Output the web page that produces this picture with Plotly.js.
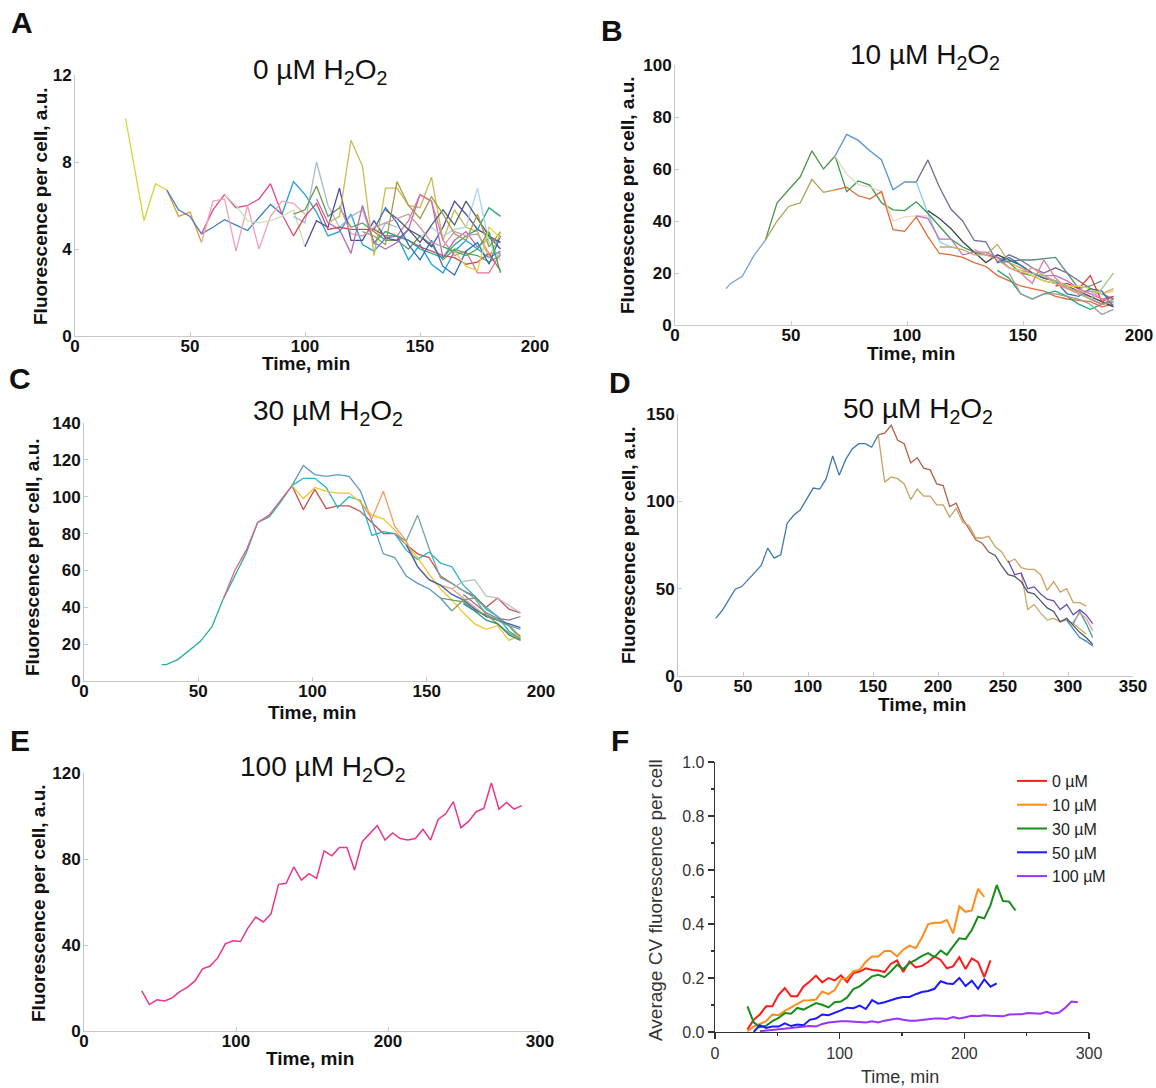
<!DOCTYPE html>
<html><head><meta charset="utf-8">
<script src="https://cdn.plot.ly/plotly-3.0.1.min.js"></script>
<style>html,body{margin:0;padding:0;background:#fff}</style>
</head><body><div id="chart" style="width:1156px;height:1088px"></div>
<script>
// ---------------- DATA ----------------
// Panel A: 0 µM H2O2 (time axis, min)
const tA = [22,30,35,40,45,50,55,60,65,70,75,80,85,90,95,100,105,110,115,120,125,130,135,140,145,150,155,160,165,170,175,180,185];
const a01 = [10.0,5.3,7.0,6.7];
const a02 = [6.7,5.5,5.7,4.3];
const a03 = [6.7,5.8,5.5,4.7,5.0,5.35,5.1,4.85,5.45,6.05,5.6];
const a04 = [5.6,7.1,6.5,5.7,4.6,4.8,5.6,4.2,3.9,4.5,4.6,3.5,4.2,3.3,2.9,3.9,4.4,4.0,3.6,3.9];
const a05 = [4.7,5.8,6.5,5.9,6.0,6.3,7.0,5.6,4.6];
const a06 = [4.3,6.2,6.3,3.9,6.0,4.0,5.5,6.2,6.1,5.6];
const a07 = [6.5,6.0,5.3,5.2,5.3,5.5,5.8,4.1];
const a08 = [5.5,5.2,8.0,6.0,5.0,5.5,5.8,4.2,5.2,5.0];
const a09 = [5.6,5.8,6.9,5.5,5.9,5.0,5.2,4.8,4.4,4.4,4.0,4.6,4.2,3.5,4.0,3.8,3.7,3.4,3.7];
const a10 = [4.1,5.3,5.0,6.8,4.4,4.4,5.3,4.5,4.4,4.9,4.6,4.1,5.0,6.2,5.6,4.9,4.6,4.0];
const a11 = [5.2,5.5,9.0,7.8,3.7,6.8,6.8,6.0,5.9,7.3,4.4,5.8,5.0,4.8,3.6,4.7];
const a12 = [6.3,5.2,4.9,3.8,6.0,4.3,4.0,4.3,4.9,6.5,6.2,3.6,4.4,4.8,4.1,4.5,4.3];
const a13 = [4.6,5.5,6.1,4.9,5.0,4.9,4.9,4.9,4.6,4.6,4.4,4.1,3.9,3.7,3.6,3.3,3.4,3.8,3.0];
const a14 = [4.3,4.8,4.6,4.4,4.0,3.8,3.6,4.2,4.6,4.9,5.9,5.5];
const a15 = [4.5,5.0,4.6,4.9,5.0,6.8,4.3,3.5];
const a16 = [4.6,5.3,6.5,6.2,4.4,3.7,3.9,2.9,2.9,3.8];
const a17 = [4.9,5.9,5.2,4.2,3.5,4.4,3.2,2.8,3.9,4.3,3.3,4.6];
const a18 = [5.8,5.4,4.9,4.3,5.1,5.8,5.1,6.2,5.4,4.6,4.3];
const a19 = [4.8,4.6,4.2,7.1,6.0,5.4,6.4,5.6,4.7,4.4,5.6,4.1,4.8];
const a20 = [6.0,4.7,4.6,5.0,5.2,5.4,5.6,5.0,4.3,4.1,4.8,4.6,4.7,3.8,3.8];
const a21 = [4.1,3.9,3.7,4.0,4.8,2.9];
const a22 = [3.9,3.2,3.0,5.0,4.5];
const startsA = [22,40,40,90,55,55,65,95,95,100,110,105,95,130,150,140,130,135,125,115,160,165];
const seriesA = [a01,a02,a03,a04,a05,a06,a07,a08,a09,a10,a11,a12,a13,a14,a15,a16,a17,a18,a19,a20,a21,a22];

// Panel B: 10 µM H2O2
const tB = [22,24,29,34,39,44,49,54,59,64,69,74,79,84,89,94,99,104,109,114,119,124,129,134,139,144,149,154,159,164,169,174,179,184,189];
const b01 = [14,16,18.7,26.7,32.7];
const b02 = [32.7,47,52,57,67,60,65];
const b03 = [65,73.3,71,67,63.5,52,55,55];
const b04 = [55,43,32,30];
const b05 = [55,63.5,53,44.5,40,32.5,32,24,27,25,22,20,22,20,17,14,12,10];
const b06 = [65,51.3,55.4,53.8,47,44.3,44,47.4,43,38,33,30,28,27,26,24,20,19,17,16,15,12,10,8,9];
const b07 = [32.7,40,45.6,47,56,51,52];
const b08 = [65,58,54,53,51.3,40,41.6,42,42];
const b09 = [52,53,49.7,48.4,51.3,36.7,36,41.6,34,27.5,27,26,24,22.5,19,17,15,14,13,11,10,9.5,9,7,8];
const b10 = [44,41,37,32,28,24,27,25,23,20,18,17,15,13,11,9,7];
const b11 = [42,41,33,33,27,28,28,26,22,21,20,19,19,17,14,12,10,11];
const b12 = [30,30,29,27,27,31,24,22,20,18,17,14,13,13,12,14];
const b13 = [24,24.5,25,25,25.5,26,20,14,15,17];
const b14 = [15,16,14,19,9,11];
const b15 = [22,21,19,17,16,15,15,14,12,13];
const b16 = [21,18,12,10,12,13,11,8,6,8,10];
const b17 = [20,16,25,18,14,13,10,8,9];
const b18 = [24,26,23,20,18,17,12,11,14,13,7];
const b19 = [20,19,17,15,12,10,14,20];
const b20 = [29,27,25,22,20,22,19,16,14,12,13,10,9];
const b21 = [20,12,10,12,12,11,10,8,4,6];
const startsB = [22,39,69,104,104,69,39,69,69,109,104,114,139,164,144,139,149,139,154,129,144];
const seriesB = [b01,b02,b03,b04,b05,b06,b07,b08,b09,b10,b11,b12,b13,b14,b15,b16,b17,b18,b19,b20,b21];

// Panel C: 30 µM H2O2
const tC = [34,36,41,46,51,56,61,66,71,76,81,86,91,96,101,106,111,116,121,126,131,136,141,146,151,156,161,166,171,176,181,186,191];
const c01 = [8.9,8.9,11.6,16.4,21.5,29.5,44.7,57,69.4,86,89,97,106];
const c02 = [44.7,60,71,86,90,98,106];
const c03 = [106,93,104,93.5,95,95,92,86,80,80,74,69,67,57,53,49,46,40,45,39,37];
const c04 = [106,117,112,111,112,111,103,87,69,67,57,53,50,45,38];
const c05 = [106,110,110,105,94,100,98,79,81,80,71,66,70,64,62,52,46,39,35,27,23];
const c06 = [106,99,105,103,102,102,97,90,88,82,74,67,58,50,44,37,31,28,30,22,25];
const c07 = [97,88,103,84,76,62,55,52,50,45,40,35,33,30,22];
const c08 = [80,76,90,72,56,53,49,45,40,35,30,28];
const c09 = [74,62,55,52,47,44,39,35,33,31,29];
const c10 = [50,54,55,46,45,41,37];
const c11 = [45,44,43,38,36,33,30,24];
const c12 = [47,42,37,34,33,35];
const c13 = [38,44,45,36,31,26,23];
const c14 = [42,38,33,31,25,22];
const startsC = [34,61,91,91,91,91,121,136,141,161,156,166,161,166];
const seriesC = [c01,c02,c03,c04,c05,c06,c07,c08,c09,c10,c11,c12,c13,c14];

// Panel D: 50 µM H2O2
const tD = [29,34,39,44,49,54,59,64,69,74,79,84,89,94,99,104,109,114,119,124,129,134,139,144,149,154,159,164,169,174,179,184,189,194,199,204,209,214,219,224,229,234,239,244,249,254,259,264,269,274,279,284,289,294,299,304,309,314,319];
const d01 = [33,37.5,43.6,49.7,51.2,55,59.2,63.3,73.2,67.5,69.4,87.5,92,95,101,107.6,107,113,126,115,124,130,133,133,131,138];
const d02 = [138,139,143.5,135,133,122,125,119,118,110,109,97,99,90,84,78,76,71];
const d03 = [138,111,114,113,110,101,107,103,103,98,98,91,96,88,86,79,79,80,74,71,65,67,62,61,61,58,49,54,48,50,42,42,40];
const d04 = [59,38,41,36,32,33,31,32,30,27,24];
const d05 = [71,69,63,58,57,54,48,47,43,39,37,31,33,29,25,22,18];
const d06 = [66,58,59,50,51,47,44,43,38,41,35,38,35,30];
const d07 = [30,37,30,22];
const d08 = [31,36,33,26];
const d09 = [32,27,22,20,17];
const startsD = [29,154,154,264,239,254,304,304,299];
const seriesD = [d01,d02,d03,d04,d05,d06,d07,d08,d09];

// Panel E: 100 µM H2O2
const tE = [38,43,48,53,58,63,68,73,78,83,88,93,98,103,108,113,118,123,128,133,138,143,148,153,158,163,168,173,178,183,188,193,198,203,208,213,218,223,228,233,238,243,248,253,258,263,268,273,278,283,288];
const e01 = [18.7,12.3,14.5,14,15.4,18.3,20.3,23.3,28.9,30.2,34,40.5,42,41.6,48.1,53,50.7,54.5,68.2,68.7,76.3,70.2,73.2,71,83.8,81.5,85.3,85.3,74.8,88,91.8,95.6,88.8,92.1,89.5,88.8,89.5,93.8,88.8,98.4,101,106.7,94.6,97.5,102,103.5,115.4,103.2,106.3,103.2,104.8];

// Panel F: average CV of fluorescence per cell
const tF = [26,31,36,41,46,51,56,61,66,71,76,81,86,91,96,101,106,111,116,121,126,131,136,141,146,151,156,161,166,171,176,181,186,191,196,201,206,211,216,221,226,231,236,241,246,251,256,261,266,271,276,281,286,291];
const fNames = ['0 µM','10 µM','30 µM','50 µM','100 µM'];
const f0 = [0.009,0.045,0.065,0.095,0.095,0.138,0.163,0.132,0.132,0.169,0.187,0.209,0.184,0.2,0.191,0.21,0.185,0.218,0.224,0.236,0.23,0.228,0.222,0.252,0.265,0.222,0.261,0.239,0.245,0.259,0.28,0.267,0.236,0.243,0.277,0.233,0.273,0.259,0.203,0.265];
const f10 = [0.003,0.02,0.03,0.04,0.065,0.062,0.078,0.09,0.105,0.117,0.118,0.12,0.15,0.14,0.155,0.195,0.2,0.225,0.23,0.26,0.28,0.28,0.3,0.3,0.28,0.305,0.32,0.31,0.35,0.4,0.405,0.405,0.415,0.365,0.465,0.445,0.45,0.53,0.5];
const f30 = [0.095,0.036,0.018,0.023,0.04,0.052,0.07,0.068,0.089,0.083,0.095,0.107,0.101,0.091,0.11,0.113,0.128,0.159,0.169,0.187,0.206,0.212,0.203,0.224,0.249,0.233,0.255,0.267,0.282,0.292,0.277,0.302,0.286,0.317,0.347,0.344,0.378,0.427,0.421,0.47,0.544,0.485,0.483,0.45];
const f50 = [0.0,0.025,0.015,0.02,0.02,0.032,0.022,0.028,0.025,0.045,0.05,0.065,0.062,0.07,0.08,0.09,0.088,0.098,0.085,0.118,0.105,0.11,0.118,0.125,0.13,0.13,0.14,0.148,0.152,0.16,0.188,0.18,0.178,0.2,0.17,0.19,0.16,0.195,0.168,0.18];
const f100 = [0.003,0.005,0.008,0.01,0.012,0.015,0.018,0.02,0.022,0.02,0.03,0.035,0.038,0.04,0.04,0.038,0.035,0.035,0.04,0.035,0.042,0.046,0.05,0.045,0.042,0.042,0.045,0.046,0.05,0.05,0.048,0.055,0.05,0.055,0.06,0.058,0.062,0.06,0.058,0.058,0.065,0.066,0.066,0.07,0.07,0.068,0.075,0.068,0.072,0.09,0.113,0.11];
const startsF = [26,26,26,31,36];
const seriesF = [f0,f10,f30,f50,f100];

// ---------------- STYLE / LAYOUT ----------------
const W = 1156, H = 1088;
const FONT = 'Liberation Sans, Arial, Helvetica, sans-serif';
const colorsA = ['#d9d23a','#e89a30','#3f7fc4','#1ba1e2','#e8498a','#f0a0b4','#cde3b6','#a9bcc6','#6c9a52','#4a4aa6','#c9bb4e','#b56ab8','#d0485a','#2aa192','#a8d4f2','#e27496','#2f6fc2','#4f6173','#a89a44','#cf96a8','#2fb14f','#e3d33d'];
const colorsB = ['#7ba0d0','#4f9550','#5a92d4','#86cdf2','#6e6e94','#3a9a4a','#b0a050','#ecd6c0','#e06a35','#3f4650','#c66cc6','#caa565','#5c8c82','#e83535','#e2d545','#21a474','#e4789a','#2f72c4','#a6c885','#e39a88','#9a9a9a'];
const colorsC = ['#1fb39b','#e0608e','#c65454','#5c9bc2','#22b6c8','#f2c526','#f39a68','#74a3a8','#4262b2','#b9c1c1','#5aa46c','#8472aa','#86a45e','#2b8f80'];
const colorsD = ['#3c78b0','#b5604f','#c9a25f','#cba86a','#4f5868','#6650b4','#2fa090','#f09898','#3a86c0'];
const colorE = '#e8358c';
const colorsF = ['#ff1a1a','#ff8c1a','#1a8c1a','#1a1aff','#9933ff'];

function seg(t, start, vals) { const i = t.indexOf(start); return t.slice(i, i + vals.length); }

const traces = [];
function addPanel(t, starts, series, colors, ax) {
  series.forEach((v, k) => {
    traces.push({type:'scatter', mode:'lines', x: seg(t, starts[k], v), y: v,
      xaxis:'x'+ax, yaxis:'y'+ax, line:{color:colors[k], width:1.3}, showlegend:false, hoverinfo:'skip'});
  });
}
addPanel(tA, startsA, seriesA, colorsA, '');
addPanel(tB, startsB, seriesB, colorsB, '2');
addPanel(tC, startsC, seriesC, colorsC, '3');
addPanel(tD, startsD, seriesD, colorsD, '4');
traces.push({type:'scatter', mode:'lines', x:tE, y:e01, xaxis:'x5', yaxis:'y5', line:{color:colorE, width:1.5}, showlegend:false, hoverinfo:'skip'});
seriesF.forEach((v, k) => {
  traces.push({type:'scatter', mode:'lines', x: seg(tF, startsF[k], v), y: v, name: fNames[k],
    xaxis:'x6', yaxis:'y6', line:{color:colorsF[k], width:2}, showlegend:true, hoverinfo:'skip'});
});

const dx = (a, b) => [a / W, b / W];
const dy = (top, bottom) => [1 - bottom / H, 1 - top / H];

function axAE(domain, range, dtick, anchor, isX) {
  return {domain, range, dtick, tick0:0, anchor, showgrid:false, zeroline:false, showline:true,
    linecolor:'#c8c8c8', linewidth:1, ticks:'inside', ticklen:4, tickcolor:'#c8c8c8',
    ticklabelstandoff: isX ? -5 : -1,
    tickfont:{family:FONT, size:17, color:'#111', weight:'bold'}, fixedrange:true};
}
function axF(domain, range, dtick, minor, anchor, fmt) {
  return {domain, range, dtick, tick0:0, anchor, showgrid:false, zeroline:false, showline:true,
    linecolor:'#333', linewidth:1.3, ticks:'outside', ticklen:6, tickcolor:'#333', tickwidth:1.3,
    minor:{ticks:'outside', ticklen:3, dtick:minor, tickcolor:'#333'},
    tickformat: fmt, tickfont:{family:FONT, size:16, color:'#333'}, fixedrange:true};
}

const layout = {
  width: W, height: H, margin:{l:0, r:0, t:0, b:0},
  paper_bgcolor:'#fff', plot_bgcolor:'rgba(0,0,0,0)', font:{family:FONT},
  xaxis:  axAE(dx(75,535),   [0,200], 50, 'y', true),
  yaxis:  axAE(dy(75,336),   [0,12],  4,  'x', false),
  xaxis2: axAE(dx(675,1139), [0,200], 50, 'y2', true),
  yaxis2: axAE(dy(65,325),   [0,100], 20, 'x2', false),
  xaxis3: axAE(dx(84,541),   [0,200], 50, 'y3', true),
  yaxis3: axAE(dy(423,681),  [0,140], 20, 'x3', false),
  xaxis4: axAE(dx(678,1133), [0,350], 50, 'y4', true),
  yaxis4: axAE(dy(414,676),  [0,150], 50, 'x4', false),
  xaxis5: axAE(dx(84,540),   [0,300], 100, 'y5', true),
  yaxis5: axAE(dy(773,1031), [0,120], 40, 'x5', false),
  xaxis6: axF(dx(715,1089),  [0,300], 100, 50, 'y6', ''),
  yaxis6: axF(dy(762,1032),  [0,1.0], 0.2, 0.1, 'x6', '.1f'),
  legend: {x:1012/W, y:1-764/H, xanchor:'left', yanchor:'top', bgcolor:'rgba(0,0,0,0)',
    font:{family:FONT, size:16, color:'#222'}, tracegroupgap:0, itemwidth:30},
  annotations: []
};

function ann(text, x, y, size, opts) {
  layout.annotations.push(Object.assign({text, x: x / W, y: 1 - y / H, xref:'paper', yref:'paper',
    showarrow:false, xanchor:'center', yanchor:'middle', font:{family:FONT, size, color:'#111'}}, opts || {}));
}
// panel letters
[['A',22,22],['B',612,30],['C',20,378],['D',620,382],['E',20,740],['F',620,740]].forEach(p =>
  ann('<b>'+p[0]+'</b>', p[1], p[2], 30));
// panel titles
[['0 µM',320,72],['10 µM',925,57],['30 µM',328,412],['50 µM',918,410],['100 µM',323,768]].forEach(p =>
  ann(p[0]+' H<sub>2</sub>O<sub>2</sub>', p[1], p[2], 28));
// axis titles
const ylab = '<b>Fluorescence per cell, a.u.</b>';
[[40,206],[628,195],[32,557],[628,545],[38,903]].forEach(p => ann(ylab, p[0], p[1], 19, {textangle:-90}));
[[306,363],[911,353],[312,712],[922,704],[310,1058]].forEach(p => ann('<b>Time, min</b>', p[0], p[1], 19));
ann('Average CV fluorescence per cell', 655, 900, 19, {textangle:-90, font:{family:FONT, size:19, color:'#333'}});
ann('Time, min', 900, 1077, 18, {font:{family:FONT, size:18, color:'#333'}});

Plotly.newPlot('chart', traces, layout, {staticPlot:true, displayModeBar:false});
</script></body></html>
